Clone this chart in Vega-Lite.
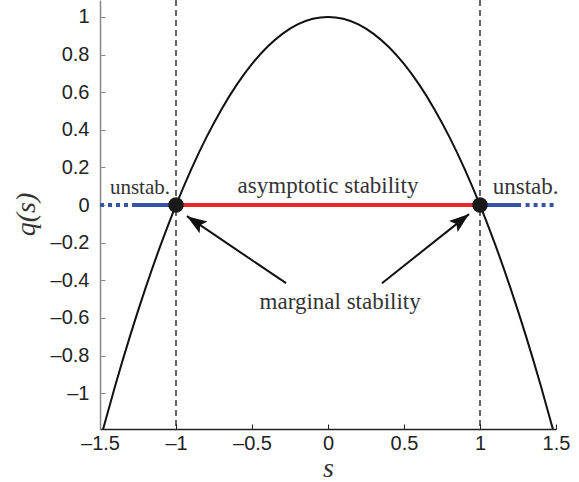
{
  "$schema": "https://vega.github.io/schema/vega-lite/v6.json",
  "width": 456,
  "height": 429,
  "autosize": {"type": "none"},
  "padding": {"left": 100, "top": 0, "right": 23, "bottom": 53},
  "background": "white",
  "config": {
    "view": {"stroke": null},
    "axis": {"grid": false, "labelFont": "Liberation Sans", "labelFontSize": 20, "labelColor": "#222", "tickSize": -5, "ticks": true, "labelFlush": false, "labelOverlap": false}
  },
  "datasets": {
    "curve": [
      {"s": -1.5, "q": -1.25}, {"s": -1.4, "q": -0.96}, {"s": -1.3, "q": -0.69}, {"s": -1.2, "q": -0.44},
      {"s": -1.1, "q": -0.21}, {"s": -1.0, "q": 0.0}, {"s": -0.9, "q": 0.19}, {"s": -0.8, "q": 0.36},
      {"s": -0.7, "q": 0.51}, {"s": -0.6, "q": 0.64}, {"s": -0.5, "q": 0.75}, {"s": -0.4, "q": 0.84},
      {"s": -0.3, "q": 0.91}, {"s": -0.2, "q": 0.96}, {"s": -0.1, "q": 0.99}, {"s": 0.0, "q": 1.0},
      {"s": 0.1, "q": 0.99}, {"s": 0.2, "q": 0.96}, {"s": 0.3, "q": 0.91}, {"s": 0.4, "q": 0.84},
      {"s": 0.5, "q": 0.75}, {"s": 0.6, "q": 0.64}, {"s": 0.7, "q": 0.51}, {"s": 0.8, "q": 0.36},
      {"s": 0.9, "q": 0.19}, {"s": 1.0, "q": 0.0}, {"s": 1.1, "q": -0.21}, {"s": 1.2, "q": -0.44},
      {"s": 1.3, "q": -0.69}, {"s": 1.4, "q": -0.96}, {"s": 1.5, "q": -1.25}
    ],
    "vlines": [{"s": -1}, {"s": 1}],
    "segments": [
      {"s": -1.0, "s2": 1.0, "q": 0, "kind": "stable"},
      {"s": -1.29, "s2": -1.0, "q": 0, "kind": "unstable"},
      {"s": 1.0, "s2": 1.27, "q": 0, "kind": "unstable"},
      {"s": -1.5, "s2": -1.31, "q": 0, "kind": "unstable-far"},
      {"s": 1.3, "s2": 1.49, "q": 0, "kind": "unstable-far"}
    ],
    "dots": [{"s": -1, "q": 0}, {"s": 1, "q": 0}],
    "arrows": [
      {"side": "left", "s": -0.276, "q": -0.415, "s2": -0.928, "q2": -0.059},
      {"side": "right", "s": 0.355, "q": -0.415, "s2": 0.928, "q2": -0.048}
    ],
    "labels": [
      {"s": 0.0, "q": 0.10, "text": "asymptotic stability", "group": "big"},
      {"s": 0.08, "q": -0.516, "text": "marginal stability", "group": "big"},
      {"s": 1.30, "q": 0.096, "text": "unstab.", "group": "big"},
      {"s": -1.237, "q": 0.09, "text": "unstab.", "group": "small"}
    ]
  },
  "layer": [
    {
      "data": {"name": "vlines"},
      "mark": {"type": "rule", "color": "#000", "strokeWidth": 1.2, "strokeDash": [6, 4]},
      "encoding": {
        "x": {
          "field": "s", "type": "quantitative",
          "scale": {"domain": [-1.5, 1.5], "nice": false, "zero": false},
          "axis": {
            "values": [-1.5, -1, -0.5, 0, 0.5, 1, 1.5],
            "labelExpr": "datum.value < 0 ? '–' + format(-datum.value, '~g') : format(datum.value, '~g')",
            "domainColor": "#222", "tickColor": "#222", "domainWidth": 1.5,
            "labelPadding": 9,
            "title": "s", "titleFont": "Liberation Serif", "titleFontStyle": "italic", "titleFontWeight": "normal",
            "titleFontSize": 28, "titleColor": "#333", "titleBaseline": "middle", "titleY": 39, "titleX": 228
          }
        }
      }
    },
    {
      "data": {"name": "curve"},
      "mark": {"type": "line", "color": "#111", "strokeWidth": 2, "interpolate": "monotone", "clip": true},
      "encoding": {
        "x": {"field": "s", "type": "quantitative"},
        "y": {
          "field": "q", "type": "quantitative",
          "scale": {"domain": [-1.19, 1.09], "nice": false, "zero": false},
          "axis": {
            "values": [-1, -0.8, -0.6, -0.4, -0.2, 0, 0.2, 0.4, 0.6, 0.8, 1],
            "labelExpr": "datum.value < 0 ? '–' + format(-datum.value, '~g') : format(datum.value, '~g')",
            "domainColor": "#888", "tickColor": "#888", "domainWidth": 1.5,
            "labelPadding": 16,
            "title": "q(s)", "titleFont": "Liberation Serif", "titleFontStyle": "italic", "titleFontWeight": "normal",
            "titleFontSize": 28, "titleColor": "#333", "titleAngle": -90, "titleBaseline": "middle", "titleAlign": "center",
            "titleX": -74, "titleY": 214
          }
        }
      }
    },
    {
      "data": {"name": "segments"},
      "mark": {"type": "rule", "strokeWidth": 4},
      "encoding": {
        "x": {"field": "s", "type": "quantitative"},
        "x2": {"field": "s2"},
        "y": {"field": "q", "type": "quantitative"},
        "color": {"field": "kind", "type": "nominal", "legend": null,
          "scale": {"domain": ["stable", "unstable", "unstable-far"], "range": ["#e8262b", "#3553a8", "#3553a8"]}},
        "strokeDash": {"field": "kind", "type": "nominal", "legend": null,
          "scale": {"domain": ["stable", "unstable", "unstable-far"], "range": [[1, 0], [1, 0], [4, 4]]}}
      }
    },
    {
      "data": {"name": "arrows"},
      "mark": {"type": "rule", "color": "#111", "strokeWidth": 2},
      "encoding": {
        "x": {"field": "s", "type": "quantitative"},
        "y": {"field": "q", "type": "quantitative"},
        "x2": {"field": "s2"},
        "y2": {"field": "q2"}
      }
    },
    {
      "data": {"name": "arrows"},
      "transform": [{"filter": "datum.side == 'left'"}],
      "mark": {"type": "point", "shape": "M0,0L-0.7,2L0,1.6L0.7,2Z", "filled": true, "color": "#111", "opacity": 1, "size": 400, "angle": 304},
      "encoding": {
        "x": {"field": "s2", "type": "quantitative"},
        "y": {"field": "q2", "type": "quantitative"}
      }
    },
    {
      "data": {"name": "arrows"},
      "transform": [{"filter": "datum.side == 'right'"}],
      "mark": {"type": "point", "shape": "M0,0L-0.7,2L0,1.6L0.7,2Z", "filled": true, "color": "#111", "opacity": 1, "size": 400, "angle": 52},
      "encoding": {
        "x": {"field": "s2", "type": "quantitative"},
        "y": {"field": "q2", "type": "quantitative"}
      }
    },
    {
      "data": {"name": "dots"},
      "mark": {"type": "circle", "color": "#1a1a1a", "opacity": 1, "size": 240},
      "encoding": {
        "x": {"field": "s", "type": "quantitative"},
        "y": {"field": "q", "type": "quantitative"}
      }
    },
    {
      "data": {"name": "labels"},
      "transform": [{"filter": "datum.group == 'big'"}],
      "mark": {"type": "text", "font": "Liberation Serif", "fontSize": 23, "color": "#333", "align": "center", "baseline": "middle"},
      "encoding": {
        "x": {"field": "s", "type": "quantitative"},
        "y": {"field": "q", "type": "quantitative"},
        "text": {"field": "text"}
      }
    },
    {
      "data": {"name": "labels"},
      "transform": [{"filter": "datum.group == 'small'"}],
      "mark": {"type": "text", "font": "Liberation Serif", "fontSize": 21, "color": "#333", "align": "center", "baseline": "middle"},
      "encoding": {
        "x": {"field": "s", "type": "quantitative"},
        "y": {"field": "q", "type": "quantitative"},
        "text": {"field": "text"}
      }
    }
  ]
}
